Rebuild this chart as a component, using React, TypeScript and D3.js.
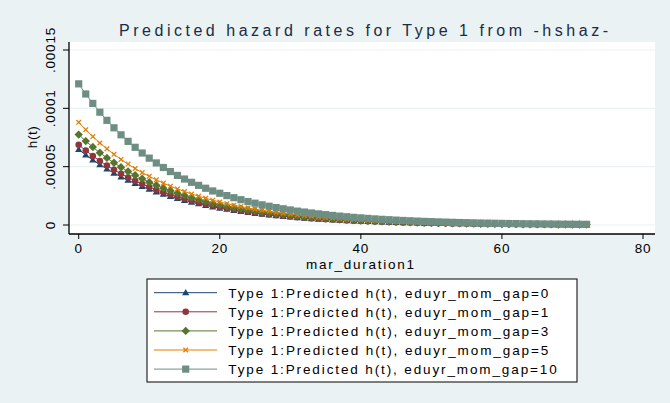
import React from "react";
import * as d3 from "d3";

// ---------- data (hazard values in units of 1e-6) ----------
const UNIT = 1e-6;
const durations = d3.range(0, 73); // 0..72 (index positions of the values below)

const gap0 = [64.7, 60.0, 55.7, 51.7, 48.0, 44.5, 41.3, 38.4, 35.6, 33.0, 30.7, 28.4, 26.4, 24.5, 22.7, 21.1, 19.6, 18.2, 16.9, 15.6, 14.5, 13.5, 12.5, 11.6, 10.8, 9.99, 9.27, 8.60, 7.98, 7.41, 6.88, 6.38, 5.92, 5.50, 5.10, 4.73, 4.39, 4.08, 3.78, 3.51, 3.26, 3.02, 2.80, 2.60, 2.42, 2.24, 2.08, 1.93, 1.79, 1.66, 1.54, 1.43, 1.33, 1.23, 1.14, 1.06, 0.98, 0.91, 0.85, 0.79, 0.73, 0.68, 0.63, 0.58, 0.54, 0.50, 0.47, 0.43, 0.40, 0.37, 0.35, 0.32, 0.30];
const gap1 = [68.7, 63.8, 59.2, 54.9, 51.0, 47.3, 43.9, 40.7, 37.8, 35.1, 32.6, 30.2, 28.0, 26.0, 24.1, 22.4, 20.8, 19.3, 17.9, 16.6, 15.4, 14.3, 13.3, 12.3, 11.4, 10.6, 9.84, 9.13, 8.47, 7.87, 7.31, 6.78, 6.29, 5.84, 5.42, 5.02, 4.66, 4.33, 4.01, 3.73, 3.46, 3.21, 2.97, 2.76, 2.57, 2.38, 2.21, 2.05, 1.90, 1.76, 1.64, 1.52, 1.41, 1.31, 1.21, 1.13, 1.04, 0.97, 0.90, 0.84, 0.78, 0.72, 0.67, 0.62, 0.57, 0.53, 0.50, 0.46, 0.42, 0.39, 0.37, 0.34, 0.32];
const gap3 = [77.5, 71.9, 66.8, 61.9, 57.5, 53.3, 49.5, 45.9, 42.6, 39.6, 36.7, 34.1, 31.6, 29.3, 27.2, 25.3, 23.4, 21.8, 20.2, 18.7, 17.4, 16.1, 15.0, 13.9, 12.9, 12.0, 11.1, 10.3, 9.56, 8.88, 8.24, 7.64, 7.09, 6.59, 6.11, 5.67, 5.26, 4.89, 4.53, 4.20, 3.91, 3.62, 3.35, 3.11, 2.90, 2.68, 2.49, 2.31, 2.14, 1.99, 1.84, 1.71, 1.59, 1.47, 1.37, 1.27, 1.17, 1.09, 1.02, 0.95, 0.87, 0.81, 0.75, 0.69, 0.65, 0.60, 0.56, 0.52, 0.48, 0.44, 0.42, 0.38, 0.36];
const gap5 = [88.0, 81.7, 75.8, 70.3, 65.3, 60.6, 56.2, 52.2, 48.4, 44.9, 41.7, 38.7, 35.9, 33.3, 30.9, 28.7, 26.6, 24.7, 22.9, 21.3, 19.7, 18.3, 17.0, 15.8, 14.6, 13.6, 12.6, 11.7, 10.9, 10.1, 9.36, 8.68, 8.05, 7.48, 6.94, 6.43, 5.97, 5.55, 5.14, 4.77, 4.43, 4.11, 3.81, 3.54, 3.29, 3.05, 2.83, 2.62, 2.43, 2.26, 2.09, 1.94, 1.81, 1.67, 1.55, 1.44, 1.33, 1.24, 1.16, 1.07, 0.99, 0.92, 0.86, 0.79, 0.73, 0.68, 0.64, 0.58, 0.54, 0.50, 0.48, 0.44, 0.41];
const gap10 = [121.0, 112.3, 104.2, 96.7, 89.7, 83.3, 77.3, 71.7, 66.6, 61.7, 57.3, 53.2, 49.3, 45.8, 42.5, 39.4, 36.6, 34.0, 31.5, 29.2, 27.2, 25.2, 23.4, 21.7, 20.1, 18.7, 17.3, 16.1, 14.9, 13.9, 12.9, 11.9, 11.1, 10.3, 9.54, 8.85, 8.21, 7.63, 7.07, 6.56, 6.10, 5.65, 5.24, 4.86, 4.53, 4.19, 3.89, 3.61, 3.35, 3.10, 2.88, 2.67, 2.49, 2.30, 2.13, 1.98, 1.83, 1.70, 1.59, 1.48, 1.37, 1.27, 1.18, 1.08, 1.01, 0.94, 0.88, 0.80, 0.75, 0.69, 0.65, 0.60, 0.56];

const seriesNames = [
  "Type 1:Predicted h(t), eduyr_mom_gap=0",
  "Type 1:Predicted h(t), eduyr_mom_gap=1",
  "Type 1:Predicted h(t), eduyr_mom_gap=3",
  "Type 1:Predicted h(t), eduyr_mom_gap=5",
  "Type 1:Predicted h(t), eduyr_mom_gap=10",
];
const seriesValues = [gap0, gap1, gap3, gap5, gap10];
const seriesColors = ["#1a476f", "#90353b", "#55752f", "#e37e00", "#6e8e84"];
const seriesShapes = ["triangle", "circle", "diamond", "x", "square"];

const xTicks = [0, 20, 40, 60, 80];
const yTicks = [0, 0.00005, 0.0001, 0.00015];
const yTickLabels = ["0", ".00005", ".0001", ".00015"];

const titleText = "Predicted hazard rates for Type 1 from -hshaz-";
const xTitle = "mar_duration1";
const yTitle = "h(t)";

// ---------- layout ----------
const W = 670;
const H = 403;
const plot = { left: 69, right: 655, top: 42, bottom: 234 };
const BG = "#eaf2f3";
const FONT = "'Liberation Sans', Arial, sans-serif";

const xScale = d3.scaleLinear().domain([0, 80]).range([78.7, 643]);
const yScale = d3.scaleLinear().domain([0, 0.00015]).range([225, 50]);

function markerPath(shape: string): string {
  switch (shape) {
    case "triangle":
      return "M0,-3.6L3.6,2.6L-3.6,2.6Z";
    case "circle":
      return "M3.3,0A3.3,3.3 0 1,1 -3.3,0A3.3,3.3 0 1,1 3.3,0Z";
    case "diamond":
      return "M0,-4.2L4.2,0L0,4.2L-4.2,0Z";
    case "square":
      return "M-3.6,-3.6H3.6V3.6H-3.6Z";
    case "x":
      return "M-2.3,-2.3L2.3,2.3M-2.3,2.3L2.3,-2.3";
    default:
      return "";
  }
}

function Marker({ shape, color, x, y }: { shape: string; color: string; x: number; y: number }) {
  const isStroke = shape === "x";
  return (
    <path
      d={markerPath(shape)}
      transform={`translate(${x},${y})`}
      fill={isStroke ? "none" : color}
      stroke={color}
      strokeWidth={isStroke ? 1.3 : 0}
    />
  );
}

export default function App() {
  const line = d3
    .line<number>()
    .x((_, i) => xScale(durations[i]))
    .y((v) => yScale(v * UNIT));

  const legend = { x: 147, y: 279, w: 430, h: 103, row0: 292.7, rowStep: 19.1 };

  return (
    <svg
      width={W}
      height={H}
      style={{ position: "absolute", left: 0, top: 0, display: "block" }}
      fontFamily={FONT}
    >
      <rect x={0} y={0} width={W} height={H} fill={BG} />
      {/* plot region */}
      <rect x={plot.left} y={plot.top} width={plot.right - plot.left} height={plot.bottom - plot.top} fill="#ffffff" />
      {/* gridlines */}
      {yTicks.map((t) => (
        <line key={"g" + t} x1={plot.left} x2={plot.right} y1={yScale(t)} y2={yScale(t)} stroke={BG} strokeWidth={1.2} />
      ))}

      {/* series */}
      {seriesValues.map((vals, si) => (
        <g key={"s" + si}>
          <path d={line(vals) || ""} fill="none" stroke={seriesColors[si]} strokeWidth={1} />
          {vals.map((v, i) => (
            <Marker key={i} shape={seriesShapes[si]} color={seriesColors[si]} x={xScale(durations[i])} y={yScale(v * UNIT)} />
          ))}
        </g>
      ))}

      {/* axes */}
      <line x1={plot.left} x2={plot.left} y1={plot.top} y2={plot.bottom} stroke="#000" strokeWidth={1.3} />
      <line x1={plot.left} x2={plot.right} y1={plot.bottom} y2={plot.bottom} stroke="#000" strokeWidth={1.3} />
      {yTicks.map((t, i) => (
        <g key={"yt" + t}>
          <line x1={plot.left - 6} x2={plot.left} y1={yScale(t)} y2={yScale(t)} stroke="#000" strokeWidth={1} />
          <text
            transform={`translate(55,${yScale(t)}) rotate(-90)`}
            textAnchor="middle"
            fontSize={13.5}
            letterSpacing={0.8}
            fill="#000"
          >
            {yTickLabels[i]}
          </text>
        </g>
      ))}
      {xTicks.map((t) => (
        <g key={"xt" + t}>
          <line x1={xScale(t)} x2={xScale(t)} y1={plot.bottom} y2={plot.bottom + 5} stroke="#000" strokeWidth={1} />
          <text x={xScale(t)} y={253} textAnchor="middle" fontSize={13.5} letterSpacing={0.8} fill="#000">
            {t}
          </text>
        </g>
      ))}

      {/* axis titles */}
      <text x={360} y={269} textAnchor="middle" fontSize={13.5} textLength={108} lengthAdjust="spacing" fill="#000">
        {xTitle}
      </text>
      <text transform="translate(37,137) rotate(-90)" textAnchor="middle" fontSize={13.5} fill="#000" letterSpacing={0.5}>
        {yTitle}
      </text>

      {/* title */}
      <text x={119} y={36} fontSize={16} textLength={489} lengthAdjust="spacing" fill="#1c2b46">
        {titleText}
      </text>

      {/* legend */}
      <rect x={legend.x} y={legend.y} width={legend.w} height={legend.h} fill="#fff" stroke="#000" strokeWidth={1} />
      {seriesNames.map((name, i) => {
        const y = legend.row0 + i * legend.rowStep;
        return (
          <g key={"l" + i}>
            <line x1={154} x2={217} y1={y} y2={y} stroke={seriesColors[i]} strokeWidth={1} />
            <Marker shape={seriesShapes[i]} color={seriesColors[i]} x={185.7} y={y} />
            <text x={228.3} y={y + 5} fontSize={13.5} textLength={name.length * 8.42} lengthAdjust="spacing" fill="#000">
              {name}
            </text>
          </g>
        );
      })}
    </svg>
  );
}
